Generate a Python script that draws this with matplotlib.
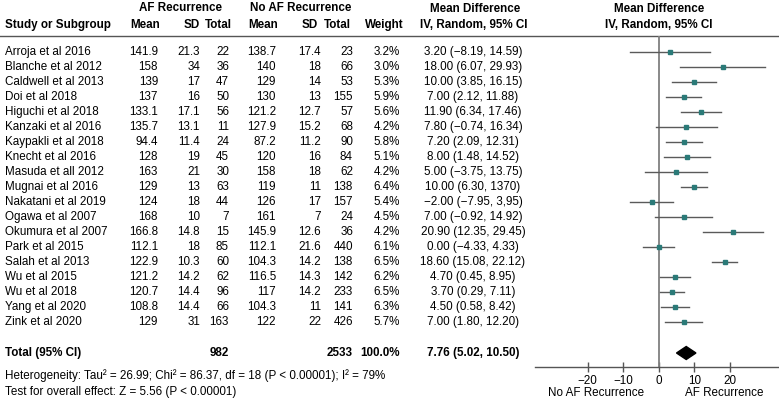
import matplotlib
matplotlib.use("Agg")
import matplotlib.pyplot as plt
from matplotlib.patches import Polygon

plt.rcParams['font.family'] = ['Liberation Sans', 'DejaVu Sans']

studies = ["Arroja et al 2016", "Blanche et al 2012", "Caldwell et al 2013", "Doi et al 2018",
           "Higuchi et al 2018", "Kanzaki et al 2016", "Kaypakli et al 2018", "Knecht et al 2016",
           "Masuda et all 2012", "Mugnai et al 2016", "Nakatani et al 2019", "Ogawa et al 2007",
           "Okumura et al 2007", "Park et al 2015", "Salah et al 2013", "Wu et al 2015",
           "Wu et al 2018", "Yang et al 2020", "Zink et al 2020"]
af_mean = ["141.9", "158", "139", "137", "133.1", "135.7", "94.4", "128", "163", "129",
           "124", "168", "166.8", "112.1", "122.9", "121.2", "120.7", "108.8", "129"]
af_sd = ["21.3", "34", "17", "16", "17.1", "13.1", "11.4", "19", "21", "13",
         "18", "10", "14.8", "18", "10.3", "14.2", "14.4", "14.4", "31"]
af_n = [22, 36, 47, 50, 56, 11, 24, 45, 30, 63, 44, 7, 15, 85, 60, 62, 96, 66, 163]
no_mean = ["138.7", "140", "129", "130", "121.2", "127.9", "87.2", "120", "158", "119",
           "126", "161", "145.9", "112.1", "104.3", "116.5", "117", "104.3", "122"]
no_sd = ["17.4", "18", "14", "13", "12.7", "15.2", "11.2", "16", "18", "11",
         "17", "7", "12.6", "21.6", "14.2", "14.3", "14.2", "11", "22"]
no_n = [23, 66, 53, 155, 57, 68, 90, 84, 62, 138, 157, 24, 36, 440, 138, 142, 233, 141, 426]
weights = [3.2, 3.0, 5.3, 5.9, 5.6, 4.2, 5.8, 5.1, 4.2, 6.4, 5.4, 4.5, 4.2, 6.1, 6.5, 6.2, 6.5, 6.3, 5.7]
md = [3.20, 18.00, 10.00, 7.00, 11.90, 7.80, 7.20, 8.00, 5.00, 10.00,
      -2.00, 7.00, 20.90, 0.00, 18.60, 4.70, 3.70, 4.50, 7.00]
ci_lo = [-8.19, 6.07, 3.85, 2.12, 6.34, -0.74, 2.09, 1.48, -3.75, 6.30,
         -7.95, -0.92, 12.35, -4.33, 15.08, 0.45, 0.29, 0.58, 1.80]
ci_hi = [14.59, 29.93, 16.15, 11.88, 17.46, 16.34, 12.31, 14.52, 13.75, 13.70,
         3.95, 14.92, 29.45, 4.33, 22.12, 8.95, 7.11, 8.42, 12.20]
ci_text = ["3.20 (\u22128.19, 14.59)", "18.00 (6.07, 29.93)", "10.00 (3.85, 16.15)",
           "7.00 (2.12, 11.88)", "11.90 (6.34, 17.46)", "7.80 (\u22120.74, 16.34)",
           "7.20 (2.09, 12.31)", "8.00 (1.48, 14.52)", "5.00 (\u22123.75, 13.75)",
           "10.00 (6.30, 1370)", "\u22122.00 (\u22127.95, 3,95)", "7.00 (\u22120.92, 14.92)",
           "20.90 (12.35, 29.45)", "0.00 (\u22124.33, 4.33)", "18.60 (15.08, 22.12)",
           "4.70 (0.45, 8.95)", "3.70 (0.29, 7.11)", "4.50 (0.58, 8.42)", "7.00 (1.80, 12.20)"]
total_af, total_no = 982, 2533
total_weight = "100.0%"
total_md, total_lo, total_hi = 7.76, 5.02, 10.50
ticks = [-20, -10, 0, 10, 20]

W, H = 779, 404
fig = plt.figure(figsize=(W / 100, H / 100), dpi=100)
bg = fig.add_axes([0, 0, 1, 1])
bg.set_xlim(0, W)
bg.set_ylim(H, 0)
bg.axis('off')

fs = 8.4
row_y0, row_step = 52, 15.0
total_y = 353
line_y = 36
axis_y = 367

# headers
bg.text(181, 8, "AF Recurrence", ha='center', va='center', fontsize=fs, weight='bold')
bg.text(301, 8, "No AF Recurrence", ha='center', va='center', fontsize=fs, weight='bold')
bg.text(475, 9, "Mean Difference", ha='center', va='center', fontsize=fs, weight='bold')
bg.text(659, 9, "Mean Difference", ha='center', va='center', fontsize=fs, weight='bold')
hy = 25
bg.text(5, hy, "Study or Subgroup", ha='left', va='center', fontsize=fs, weight='bold')
cols = [(160, "Mean"), (200, "SD"), (232, "Total"), (278, "Mean"), (318, "SD"), (351, "Total"), (404, "Weight")]
for x, lab in cols:
    bg.text(x, hy, lab, ha='right', va='center', fontsize=fs, weight='bold')
bg.text(474, hy, "IV, Random, 95% CI", ha='center', va='center', fontsize=fs, weight='bold')
bg.text(659, hy, "IV, Random, 95% CI", ha='center', va='center', fontsize=fs, weight='bold')
bg.plot([0, W], [line_y, line_y], color='#555555', lw=1.0)

# study rows
xr = [158, 200, 229, 276, 321, 353, 400]
for i, name in enumerate(studies):
    y = row_y0 + i * row_step
    bg.text(5, y, name, ha='left', va='center', fontsize=fs)
    vals = [af_mean[i], af_sd[i], str(af_n[i]), no_mean[i], no_sd[i], str(no_n[i]), f"{weights[i]:.1f}%"]
    for x, v in zip(xr, vals):
        bg.text(x, y, v, ha='right', va='center', fontsize=fs)
    bg.text(473, y, ci_text[i], ha='center', va='center', fontsize=fs)

bg.text(5, total_y, "Total (95% CI)", ha='left', va='center', fontsize=fs, weight='bold')
bg.text(xr[2], total_y, str(total_af), ha='right', va='center', fontsize=fs, weight='bold')
bg.text(xr[5], total_y, str(total_no), ha='right', va='center', fontsize=fs, weight='bold')
bg.text(xr[6], total_y, total_weight, ha='right', va='center', fontsize=fs, weight='bold')
bg.text(473, total_y, f"{total_md:.2f} ({total_lo:.2f}, {total_hi:.2f})", ha='center', va='center',
        fontsize=fs, weight='bold')
bg.text(5, 376, "Heterogeneity: Tau\u00b2 = 26.99; Chi\u00b2 = 86.37, df = 18 (P < 0.00001); I\u00b2 = 79%",
        ha='left', va='center', fontsize=fs)
bg.text(5, 392, "Test for overall effect: Z = 5.56 (P < 0.00001)", ha='left', va='center', fontsize=fs)

# forest panel
x_left = 535
ax = fig.add_axes([x_left / W, 1 - axis_y / H, (W - x_left) / W, (axis_y - line_y) / H])
ax.set_xlim(-34.85, 33.9)
ax.set_ylim(axis_y, line_y)
ax.patch.set_alpha(0)
for s in ['top', 'right', 'left']:
    ax.spines[s].set_visible(False)
ax.spines['bottom'].set_color('#555555')
ax.spines['bottom'].set_linewidth(1.0)
ax.set_yticks([])
ax.set_xticks(ticks)
ax.set_xticklabels([f"{t}".replace('-', '\u2212') for t in ticks], fontsize=fs)
ax.tick_params(axis='x', direction='inout', length=7, width=1.0, color='#555555', pad=2)
ax.axvline(0, color='#808080', lw=1.3)

for i in range(len(studies)):
    y = row_y0 + i * row_step
    ax.plot([ci_lo[i], ci_hi[i]], [y, y], color='#5a5a5a', lw=1.0)
    ax.plot(md[i], y, marker='s', ms=2.8, color='#2b7a78', mec='#2b7a78')

dh = 6.5
ax.add_patch(Polygon([[total_lo, total_y], [total_md, total_y - dh], [total_hi, total_y],
                      [total_md, total_y + dh]], closed=True, color='black'))

bg.text(596, 393, "No AF Recurrence", ha='center', va='center', fontsize=fs)
bg.text(724, 393, "AF Recurrence", ha='center', va='center', fontsize=fs)

fig.savefig("out.png", dpi=100)
